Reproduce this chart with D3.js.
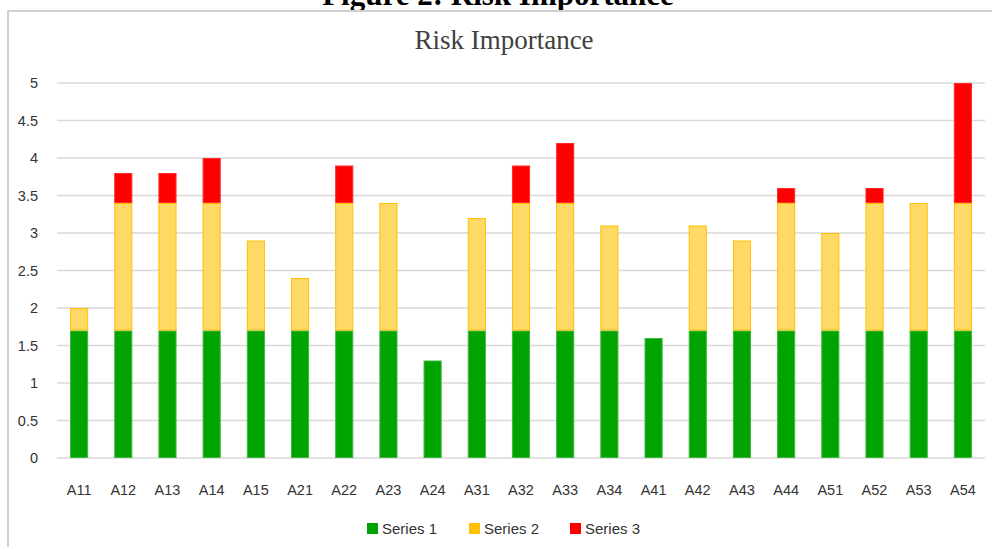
<!DOCTYPE html>
<html>
<head>
<meta charset="utf-8">
<script src="https://cdn.jsdelivr.net/npm/d3@7"></script>
<style>
  html, body { margin: 0; padding: 0; background: #fff; }
  svg { display: block; }
</style>
</head>
<body>
<svg id="chart" width="992" height="547"></svg>
<script>
// Risk indicator codes
const categories = ["A11","A12","A13","A14","A15","A21","A22","A23","A24","A31","A32","A33","A34","A41","A42","A43","A44","A51","A52","A53","A54"];
// Stacked segment values per indicator
const series1 = [1.7,1.7,1.7,1.7,1.7,1.7,1.7,1.7,1.3,1.7,1.7,1.7,1.7,1.6,1.7,1.7,1.7,1.7,1.7,1.7,1.7];
const series2 = [0.3,1.7,1.7,1.7,1.2,0.7,1.7,1.7,0,1.5,1.7,1.7,1.4,0,1.4,1.2,1.7,1.3,1.7,1.7,1.7];
const series3 = [0,0.4,0.4,0.6,0,0,0.5,0,0,0,0.5,0.8,0,0,0,0,0.2,0,0.2,0,1.6];
const seriesNames = ["Series 1","Series 2","Series 3"];
const yTicks = [0,0.5,1,1.5,2,2.5,3,3.5,4,4.5,5];

const fills = ["#00a300","#ffd966","#ff0000"];
const strokes = ["#3cb83c","#ffc000","#ff2a2a"];
const legendFills = ["#00a300","#ffc000","#ff0000"];

const svg = d3.select("#chart");
const W = 992, H = 547;
const plot = { left: 57, right: 985, top: 83, bottom: 458 };
const sansFont = "'Liberation Sans Narrow','Liberation Sans',Arial,sans-serif";
const serifFont = "'Liberation Serif','Times New Roman',serif";

// Caption sitting above the bordered chart area
svg.append("text")
  .attr("x", 498).attr("y", 5)
  .attr("text-anchor", "middle")
  .attr("font-family", serifFont)
  .attr("font-weight", "bold")
  .attr("font-size", 31)
  .attr("fill", "#000")
  .text("Figure 2: Risk Importance");

svg.append("line").attr("x1", 7).attr("x2", W).attr("y1", 11).attr("y2", 11)
  .attr("stroke", "#d0d0d0").attr("stroke-width", 2);
svg.append("line").attr("x1", 8).attr("x2", 8).attr("y1", 10).attr("y2", H)
  .attr("stroke", "#d0d0d0").attr("stroke-width", 2);

// Chart title
svg.append("text")
  .attr("x", 504).attr("y", 49)
  .attr("text-anchor", "middle")
  .attr("font-family", serifFont)
  .attr("font-size", 27)
  .attr("fill", "#404040")
  .text("Risk Importance");

const x = d3.scaleBand().domain(categories).range([plot.left, plot.right]).paddingInner(0.59).paddingOuter(0.295);
const y = d3.scaleLinear().domain([0, 5]).range([plot.bottom, plot.top]);

// Gridlines
svg.append("g").selectAll("line").data(yTicks).join("line")
  .attr("x1", plot.left).attr("x2", plot.right)
  .attr("y1", d => y(d)).attr("y2", d => y(d))
  .attr("stroke", "#d9d9d9").attr("stroke-width", 1.5);

// Y axis labels
const yAxis = d3.axisLeft(y).tickValues(yTicks).tickSize(0).tickPadding(0).tickFormat(d3.format("~g"));
const gy = svg.append("g").attr("transform", `translate(${plot.left - 19},0)`).call(yAxis);
gy.select(".domain").remove();
gy.selectAll("text")
  .attr("font-family", sansFont)
  .attr("font-size", 14.5).attr("fill", "#333");

// Stacked bars
const rows = categories.map((c, i) => ({ cat: c, s0: series1[i], s1: series2[i], s2: series3[i] }));
const stack = d3.stack().keys(["s0","s1","s2"]);
const layers = stack(rows);

svg.append("g").selectAll("g").data(layers).join("g")
  .attr("fill", (d, i) => fills[i])
  .attr("stroke", (d, i) => strokes[i])
  .attr("stroke-width", 1)
  .selectAll("rect").data(d => d.filter(p => p[1] - p[0] > 0)).join("rect")
  .attr("x", d => x(d.data.cat) + 0.5)
  .attr("width", x.bandwidth() - 1)
  .attr("y", d => y(d[1]) + 0.5)
  .attr("height", d => y(d[0]) - y(d[1]) - 1);

// Category axis labels
const xAxis = d3.axisBottom(x).tickSize(0).tickPadding(0);
const gx = svg.append("g").attr("transform", `translate(0,${plot.bottom + 37})`).call(xAxis);
gx.select(".domain").remove();
gx.selectAll("text")
  .attr("dy", 0)
  .attr("font-family", sansFont)
  .attr("font-size", 14.5).attr("fill", "#333");

// Legend
const legendX = [367, 469, 570];
const lg = svg.append("g").selectAll("g").data(seriesNames).join("g")
  .attr("transform", (d, i) => `translate(${legendX[i]},523)`);
lg.append("rect").attr("width", 11).attr("height", 11).attr("fill", (d, i) => legendFills[i]);
lg.append("text").attr("x", 15).attr("y", 11)
  .attr("font-family", sansFont)
  .attr("font-size", 15).attr("fill", "#333")
  .text(d => d);
</script>
</body>
</html>
